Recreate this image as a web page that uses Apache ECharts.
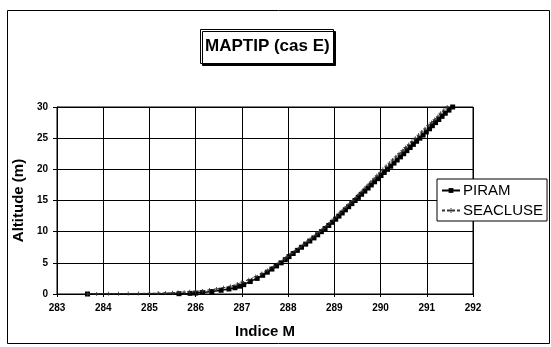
<!DOCTYPE html>
<html>
<head>
<meta charset="utf-8">
<script src="https://cdn.jsdelivr.net/npm/echarts@6/dist/echarts.min.js"></script>
<style>html,body{margin:0;padding:0;background:#fff}#c{width:551px;height:347px}</style>
</head>
<body>
<div id="c"></div>
<script>
var titleText = 'MAPTIP (cas E)';
var xName = 'Indice M';
var yName = 'Altitude (m)';
var seriesNames = ['PIRAM', 'SEACLUSE'];

var piramM = [283.66, 285.64, 285.88, 286.0, 286.15, 286.35, 286.55, 286.72, 286.85, 286.95, 287.04,
  287.18, 287.33, 287.45, 287.55, 287.65, 287.75, 287.85, 287.94, 288.02, 288.11, 288.2, 288.29,
  288.38, 288.47, 288.56, 288.64, 288.72, 288.8, 288.88, 288.96, 289.03, 289.1, 289.17, 289.24,
  289.31, 289.38, 289.45, 289.52, 289.59, 289.66, 289.73, 289.8, 289.87, 289.94, 290.01, 290.08,
  290.15, 290.22, 290.29, 290.36, 290.43, 290.5, 290.57, 290.64, 290.71, 290.78, 290.85, 290.92,
  290.99, 291.06, 291.12, 291.19, 291.26, 291.33, 291.4, 291.48, 291.56];
var piramZ = [0, 0.05, 0.1, 0.15, 0.25, 0.4, 0.6, 0.8, 1.0, 1.25, 1.5,
  2.0, 2.5, 3.0, 3.5, 4.0, 4.5, 5.0, 5.5, 6.0, 6.5, 7.0, 7.5,
  8.0, 8.5, 9.0, 9.5, 10.0, 10.5, 11.0, 11.5, 12.0, 12.5, 13.0, 13.5,
  14.0, 14.5, 15.0, 15.5, 16.0, 16.5, 17.0, 17.5, 18.0, 18.5, 19.0, 19.5,
  20.0, 20.5, 21.0, 21.5, 22.0, 22.5, 23.0, 23.5, 24.0, 24.5, 25.0, 25.5,
  26.0, 26.5, 27.0, 27.5, 28.0, 28.5, 29.0, 29.5, 30.0];

var seacluseM = [283.66, 283.86, 284.11, 284.33, 284.54, 284.76, 285.0, 285.19, 285.35, 285.5, 285.62,
  285.75, 285.87, 286.0, 286.15, 286.3, 286.45, 286.6, 286.75, 286.9, 287.0, 287.15, 287.3, 287.43,
  287.55, 287.68, 287.8, 287.92, 287.98, 288.07, 288.16, 288.25, 288.34, 288.43, 288.51, 288.6,
  288.68, 288.76, 288.84, 288.91, 288.98, 289.05, 289.12, 289.19, 289.26, 289.33, 289.4, 289.47,
  289.53, 289.6, 289.66, 289.73, 289.79, 289.86, 289.92, 289.99, 290.05, 290.12, 290.19, 290.26,
  290.33, 290.4, 290.47, 290.54, 290.61, 290.68, 290.75, 290.82, 290.89, 290.96, 291.03, 291.1,
  291.17, 291.24, 291.3, 291.37, 291.44];
var seacluseZ = [0, 0.02, 0.04, 0.06, 0.08, 0.1, 0.12, 0.15, 0.18, 0.2, 0.25,
  0.3, 0.35, 0.42, 0.5, 0.65, 0.8, 1.0, 1.25, 1.6, 1.9, 2.3, 2.8, 3.3,
  3.8, 4.4, 5.0, 5.6, 6.0, 6.5, 7.0, 7.5, 8.0, 8.5, 9.0, 9.5,
  10.0, 10.5, 11.0, 11.5, 12.0, 12.5, 13.0, 13.5, 14.0, 14.5, 15.0, 15.5,
  16.0, 16.5, 17.0, 17.5, 18.0, 18.5, 19.0, 19.5, 20.0, 20.5, 21.0, 21.5,
  22.0, 22.5, 23.0, 23.5, 24.0, 24.5, 25.0, 25.5, 26.0, 26.5, 27.0, 27.5,
  28.0, 28.5, 29.0, 29.5, 30.0];

var xMin = 283, xMax = 292, xStep = 1;
var yMin = 0, yMax = 30, yStep = 5;

function pairs(xs, ys) { return xs.map(function (v, i) { return [v, ys[i]]; }); }

var FONT = '"Liberation Sans", Arial, sans-serif';
var crossPath = 'path://M4,0H6V4H10V6H6V10H4V6H0V4H4Z';

var chart = echarts.init(document.getElementById('c'), null, { renderer: 'canvas' });
chart.setOption({
  animation: false,
  backgroundColor: '#fff',
  graphic: [{
    type: 'rect', left: 5, top: 8, z: -1,
    shape: { width: 542, height: 333 },
    style: { fill: 'none', stroke: '#000', lineWidth: 1 }
  }],
  title: {
    text: titleText,
    left: 200, top: 29,
    padding: [9, 4, 9, 5],
    borderColor: '#000', borderWidth: 1,
    backgroundColor: '#fff',
    shadowColor: '#000', shadowBlur: 0, shadowOffsetX: 2, shadowOffsetY: 2,
    textStyle: { fontFamily: FONT, fontSize: 17, fontWeight: 'bold', color: '#000' }
  },
  legend: {
    orient: 'vertical',
    left: 437, top: 179,
    padding: [4, 4, 3, 4],
    itemGap: 5,
    itemWidth: 18, itemHeight: 6,
    borderColor: '#000', borderWidth: 1,
    backgroundColor: '#fff',
    textStyle: { fontFamily: FONT, fontSize: 15, color: '#000', padding: [0, 0, 0, -2] },
    data: seriesNames
  },
  grid: {
    left: 57, right: 78, top: 107, bottom: 53,
    show: true, borderColor: '#000', borderWidth: 1
  },
  xAxis: {
    type: 'value', min: xMin, max: xMax, interval: xStep,
    name: xName, nameLocation: 'middle', nameGap: 30,
    nameTextStyle: { fontFamily: FONT, fontSize: 15, fontWeight: 'bold', color: '#000' },
    axisLine: { lineStyle: { color: '#000', width: 1 } },
    axisTick: { show: true, length: 3, lineStyle: { color: '#000' } },
    axisLabel: { fontFamily: FONT, fontSize: 10, fontWeight: 'bold', color: '#000', margin: 9 },
    splitLine: { show: true, lineStyle: { color: '#000', width: 1 } }
  },
  yAxis: {
    type: 'value', min: yMin, max: yMax, interval: yStep,
    name: yName, nameLocation: 'middle', nameGap: 30, nameRotate: 90,
    nameTextStyle: { fontFamily: FONT, fontSize: 15, fontWeight: 'bold', color: '#000' },
    axisLine: { show: true, lineStyle: { color: '#000', width: 1 } },
    axisTick: { show: true, length: 4, lineStyle: { color: '#000' } },
    axisLabel: { fontFamily: FONT, fontSize: 10, fontWeight: 'bold', color: '#000', margin: 9 },
    splitLine: { show: true, lineStyle: { color: '#000', width: 1 } }
  },
  series: [{
    name: seriesNames[0],
    type: 'line',
    data: pairs(piramM, piramZ),
    symbol: 'rect', symbolSize: 5,
    showAllSymbol: true,
    lineStyle: { color: '#000', width: 1.5 },
    itemStyle: { color: '#000' },
    z: 3
  }, {
    name: seriesNames[1],
    type: 'line',
    data: pairs(seacluseM, seacluseZ),
    symbol: crossPath, symbolSize: 4,
    showAllSymbol: true,
    lineStyle: { color: '#333', width: 1, type: [3, 2] },
    itemStyle: { color: '#333' },
    z: 4
  }]
});
</script>
</body>
</html>
